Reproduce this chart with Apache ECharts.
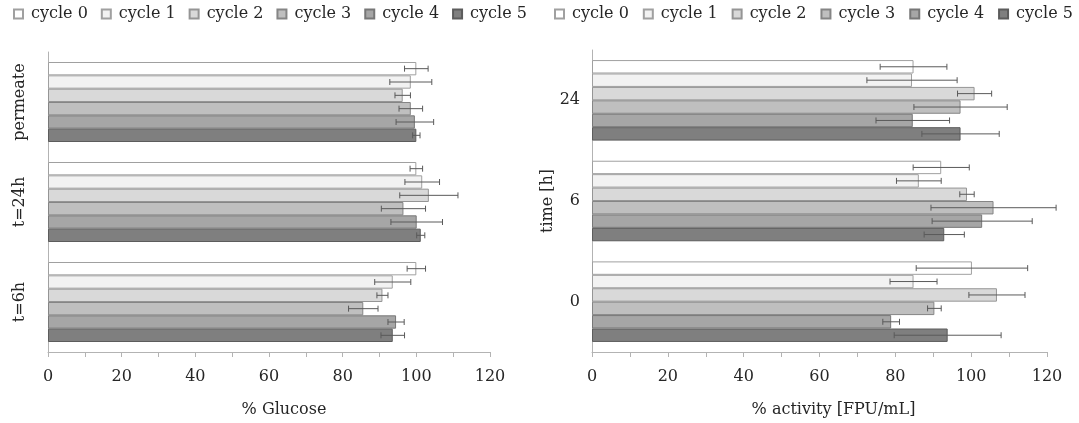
<!DOCTYPE html>
<html>
<head>
<meta charset="utf-8">
<script src="https://cdn.jsdelivr.net/npm/echarts@6/dist/echarts.min.js"></script>
<style>html,body{margin:0;padding:0;background:#fff}#c{width:1079px;height:423px}</style>
</head>
<body>
<div id="c"></div>
<script>
// categories listed bottom-to-top
const glucoseCategories = ['t=6h', 't=24h', 'permeate'];
const activityCategories = ['0', '6', '24'];
const cycleNames = ['cycle 0', 'cycle 1', 'cycle 2', 'cycle 3', 'cycle 4', 'cycle 5'];
const xTicks = [0, 20, 40, 60, 80, 100, 120];

// % Glucose (t=6h, t=24h, permeate)
const glucoseCycle0 = [100.0, 100.0, 100.0];
const glucoseCycle1 = [93.6, 101.6, 98.5];
const glucoseCycle2 = [90.8, 103.4, 96.3];
const glucoseCycle3 = [85.6, 96.5, 98.5];
const glucoseCycle4 = [94.5, 100.1, 99.6];
const glucoseCycle5 = [93.6, 101.2, 100.0];
const glucoseErr0 = [2.5, 1.7, 3.2];
const glucoseErr1 = [4.9, 4.7, 5.7];
const glucoseErr2 = [1.5, 7.9, 2.1];
const glucoseErr3 = [4.0, 6.0, 3.2];
const glucoseErr4 = [2.2, 7.0, 5.1];
const glucoseErr5 = [3.2, 1.1, 1.0];

// % activity (0, 6, 24 h)
const activityCycle0 = [100.2, 92.1, 84.8];
const activityCycle1 = [84.8, 86.2, 84.4];
const activityCycle2 = [106.8, 98.9, 100.9];
const activityCycle3 = [90.3, 105.9, 97.2];
const activityCycle4 = [78.9, 102.9, 84.6];
const activityCycle5 = [93.8, 92.9, 97.2];
const activityErr0 = [14.7, 7.4, 8.8];
const activityErr1 = [6.2, 5.9, 11.9];
const activityErr2 = [7.4, 1.9, 4.5];
const activityErr3 = [1.8, 16.5, 12.3];
const activityErr4 = [2.2, 13.2, 9.7];
const activityErr5 = [14.1, 5.3, 10.2];

const glucoseMeans = [glucoseCycle0, glucoseCycle1, glucoseCycle2, glucoseCycle3, glucoseCycle4, glucoseCycle5];
const glucoseErrs = [glucoseErr0, glucoseErr1, glucoseErr2, glucoseErr3, glucoseErr4, glucoseErr5];
const activityMeans = [activityCycle0, activityCycle1, activityCycle2, activityCycle3, activityCycle4, activityCycle5];
const activityErrs = [activityErr0, activityErr1, activityErr2, activityErr3, activityErr4, activityErr5];

const fills = ['#ffffff', '#f2f2f2', '#d9d9d9', '#bfbfbf', '#a6a6a6', '#7f7f7f'];
const borders = ['#a0a0a0', '#a0a0a0', '#959595', '#858585', '#777777', '#5c5c5c'];
const FONT = 'DejaVu Serif';
const TXT = '#262626';
const AX = '#b3b3b3';
const N = cycleNames.length;
const CAT_GAP = 0.2;

function errRender(idx) {
  return function (params, api) {
    const m = api.value(0), cat = api.value(1), e = api.value(2);
    const a = api.coord([m - e, cat]);
    const b = api.coord([m + e, cat]);
    const band = api.size([0, 1])[1];
    const bw = band * (1 - CAT_GAP) / N;
    const y = a[1] - band * (1 - CAT_GAP) / 2 + idx * bw + bw / 2;
    const st = { stroke: '#5a5a5a', lineWidth: 1 };
    const h = 3;
    return { type: 'group', children: [
      { type: 'line', shape: { x1: a[0], y1: y, x2: b[0], y2: y }, style: st },
      { type: 'line', shape: { x1: a[0], y1: y - h, x2: a[0], y2: y + h }, style: st },
      { type: 'line', shape: { x1: b[0], y1: y - h, x2: b[0], y2: y + h }, style: st }
    ]};
  };
}

function xAxisCfg(gi, name, pad) {
  return {
    type: 'value', gridIndex: gi, min: 0, max: 120, interval: 20,
    name: name, nameLocation: 'middle', nameGap: 50,
    nameTextStyle: { fontFamily: FONT, fontSize: 16, color: TXT, padding: [0, 0, 0, pad] },
    axisLine: { show: true, lineStyle: { color: AX } },
    axisTick: { show: true, length: 5, lineStyle: { color: AX } },
    minorTick: { show: true, splitNumber: 2, length: 5, lineStyle: { color: AX } },
    splitLine: { show: false },
    axisLabel: { fontFamily: FONT, fontSize: 16, color: TXT, margin: 17,
      formatter: v => xTicks.includes(v) ? String(v) : '' }
  };
}

const series = [];
cycleNames.forEach((nm, i) => {
  series.push({
    type: 'bar', name: nm, xAxisIndex: 0, yAxisIndex: 0,
    data: glucoseMeans[i], barGap: '0%', barCategoryGap: (CAT_GAP * 100) + '%',
    itemStyle: { color: fills[i], borderColor: borders[i], borderWidth: 1 },
    z: 2
  });
});
cycleNames.forEach((nm, i) => {
  series.push({
    type: 'bar', name: nm, xAxisIndex: 1, yAxisIndex: 1,
    data: activityMeans[i], barGap: '0%', barCategoryGap: (CAT_GAP * 100) + '%',
    itemStyle: { color: fills[i], borderColor: borders[i], borderWidth: 1 },
    z: 2
  });
});
cycleNames.forEach((nm, i) => {
  series.push({
    type: 'custom', name: 'errG' + i, xAxisIndex: 0, yAxisIndex: 0,
    renderItem: errRender(i), encode: { x: 0, y: 1 }, z: 5,
    data: glucoseMeans[i].map((v, k) => [v, k, glucoseErrs[i][k]])
  });
  series.push({
    type: 'custom', name: 'errA' + i, xAxisIndex: 1, yAxisIndex: 1,
    renderItem: errRender(i), encode: { x: 0, y: 1 }, z: 5,
    data: activityMeans[i].map((v, k) => [v, k, activityErrs[i][k]])
  });
});

const legendText = { fontFamily: FONT, fontSize: 16, color: TXT, padding: [0, 0, 0, 3] };
const chart = echarts.init(document.getElementById('c'), null, { renderer: 'canvas' });
chart.setOption({
  animation: false,
  backgroundColor: '#ffffff',
  legend: [
    { data: cycleNames, left: 8, top: 1, itemWidth: 9, itemHeight: 9, itemGap: 13, icon: 'rect',
      textStyle: legendText },
    { data: cycleNames, left: 549, top: 1, itemWidth: 9, itemHeight: 9, itemGap: 14, icon: 'rect',
      textStyle: legendText }
  ],
  grid: [
    { left: 48, right: 589, top: 52, bottom: 69 },
    { left: 592, right: 32, top: 50, bottom: 70 }
  ],
  xAxis: [xAxisCfg(0, '% Glucose', 30), xAxisCfg(1, '% activity [FPU/mL]', 28)],
  yAxis: [
    { type: 'category', gridIndex: 0, data: glucoseCategories,
      axisLine: { lineStyle: { color: AX } },
      axisTick: { length: 5, lineStyle: { color: AX } },
      axisLabel: { rotate: 90, interval: 0, hideOverlap: false, fontFamily: FONT, fontSize: 16, color: TXT, margin: 20 } },
    { type: 'category', gridIndex: 1, data: activityCategories,
      name: 'time [h]', nameLocation: 'middle', nameGap: 35, nameRotate: 90,
      nameTextStyle: { fontFamily: FONT, fontSize: 16, color: TXT },
      axisLine: { lineStyle: { color: AX } },
      axisTick: { length: 5, lineStyle: { color: AX } },
      axisLabel: { interval: 0, fontFamily: FONT, fontSize: 16, color: TXT, margin: 12 } }
  ],
  series: series
});
</script>
</body>
</html>
